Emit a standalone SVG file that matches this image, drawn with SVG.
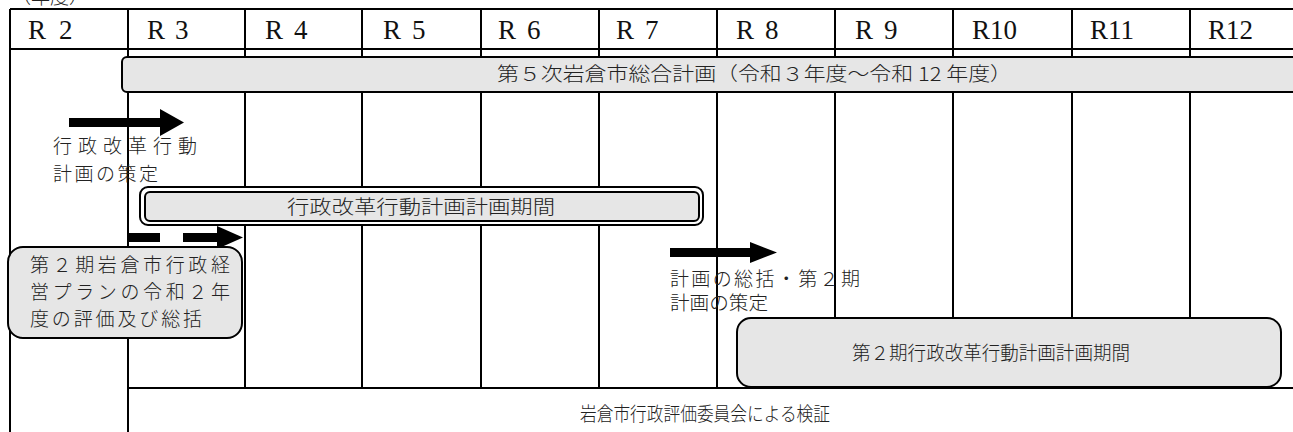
<svg xmlns="http://www.w3.org/2000/svg" width="1293" height="432" viewBox="0 0 1293 432">
<style>
.ln{stroke:#000;stroke-width:2;fill:none}
.hd{font-family:"Liberation Serif","Noto Sans CJK JP",serif;font-size:27px;fill:#111}
.jp{font-family:"Noto Sans CJK JP","Noto Sans",sans-serif;font-size:19px;font-weight:300;fill:#222}
.bar{fill:#e6e6e6;stroke:#000;stroke-width:2}
.arr{fill:#000}
</style>
<rect width="1293" height="432" fill="#fff"/>
<text class="jp" x="12" y="4" font-size="18">（年度）</text>
<g id="grid">
<path class="ln" d="M10 9H1293M10 49H1293M10 9V432M128 9V432M128 388H1293M245 9V388M362 9V388M481 9V388M599 9V388M717 9V388M835 9V388M953 9V388M1072 9V388M1190 9V388"/>
<text class="hd" x="28" y="39">R<tspan x="59">2</tspan></text>
<text class="hd" x="147" y="39">R<tspan x="175">3</tspan></text>
<text class="hd" x="265" y="39">R<tspan x="294">4</tspan></text>
<text class="hd" x="383" y="39">R<tspan x="412">5</tspan></text>
<text class="hd" x="498" y="39">R<tspan x="527">6</tspan></text>
<text class="hd" x="616" y="39">R<tspan x="645">7</tspan></text>
<text class="hd" x="736" y="39">R<tspan x="765">8</tspan></text>
<text class="hd" x="855" y="39">R<tspan x="884">9</tspan></text>
<text class="hd" x="972" y="39">R<tspan x="990">10</tspan></text>
<text class="hd" x="1090" y="39">R<tspan x="1108">11</tspan></text>
<text class="hd" x="1208" y="39">R<tspan x="1226">12</tspan></text>
</g>
<g id="plan5">
<rect class="bar" x="122" y="57" width="1190" height="35" rx="5"/>
<text class="jp" x="497" y="81" textLength="515" lengthAdjust="spacingAndGlyphs">第５次岩倉市総合計画（令和３年度～令和 12 年度）</text>
</g>
<g id="connectors">
<polygon class="arr" points="69,118 160,118 160,109 184,122.5 160,136 160,127 69,127"/>
<rect class="arr" x="128" y="233" width="32" height="9"/>
<rect class="arr" x="183" y="233" width="34" height="9"/>
<polygon class="arr" points="217,226 243,237.5 217,249"/>
<polygon class="arr" points="670,248 750,248 750,242 777,252.5 750,263 750,257 670,257"/>
</g>
<g id="sakutei1">
<text class="jp" x="53" y="153" textLength="144" lengthAdjust="spacing">行政改革行動</text>
<text class="jp" x="53" y="181" textLength="105" lengthAdjust="spacing">計画の策定</text>
</g>
<g id="period1">
<rect x="140" y="187" width="563" height="38" rx="8" fill="#fff" stroke="#000" stroke-width="2"/>
<rect class="bar" x="145" y="192" width="554" height="29" rx="5"/>
<text class="jp" x="287" y="214" font-size="21" textLength="268" lengthAdjust="spacingAndGlyphs">行政改革行動計画計画期間</text>
</g>
<g id="hyoka">
<rect class="bar" x="8" y="247" width="234" height="91" rx="15"/>
<text class="jp" x="30" y="272" font-size="21" textLength="200" lengthAdjust="spacing">第２期岩倉市行政経</text>
<text class="jp" x="30" y="299" font-size="21" textLength="200" lengthAdjust="spacing">営プランの令和２年</text>
<text class="jp" x="30" y="326" font-size="21" textLength="172" lengthAdjust="spacing">度の評価及び総括</text>
</g>
<g id="sakutei2">
<text class="jp" x="670" y="286" textLength="190" lengthAdjust="spacing">計画の総括・第２期</text>
<text class="jp" x="670" y="310" textLength="98" lengthAdjust="spacingAndGlyphs">計画の策定</text>
</g>
<g id="period2">
<rect class="bar" x="737" y="318" width="544" height="69" rx="14"/>
<text class="jp" x="852" y="360" textLength="278" lengthAdjust="spacingAndGlyphs">第２期行政改革行動計画計画期間</text>
</g>
<g id="kensho">
<text class="jp" x="580" y="421" textLength="250" lengthAdjust="spacingAndGlyphs">岩倉市行政評価委員会による検証</text>
</g>
</svg>
